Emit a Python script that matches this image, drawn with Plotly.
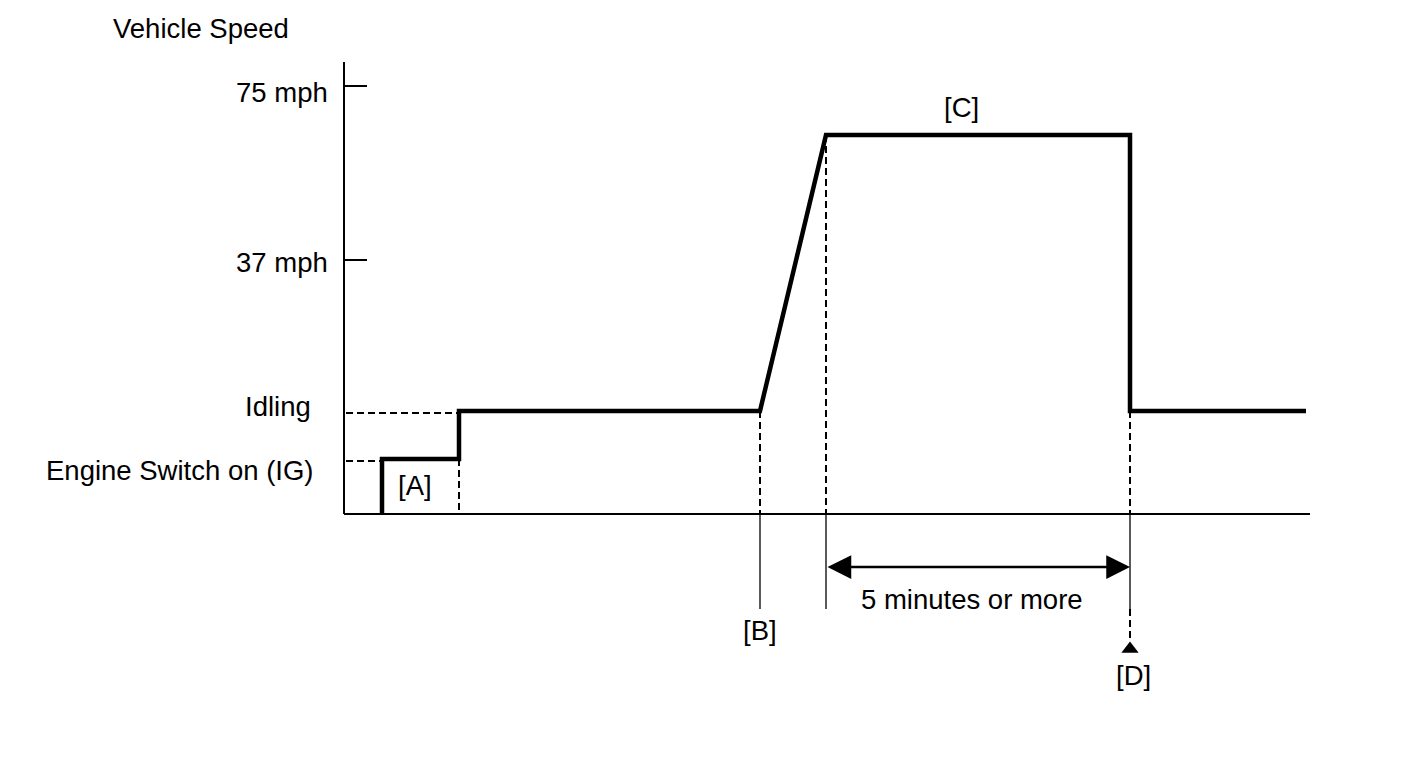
import plotly.graph_objects as go

# Schematic units: x = time position, y = speed level (baseline = 0)
t_start = 38
t_A = 115
t_B = 416
t_C = 482
t_D = 786
t_end = 962
axis_end = 966
axis_top = 452

lvl_engine = 55
lvl_idle = 103
lvl_cruise = 379
lvl_37 = 254
lvl_75 = 428

tick_levels = [lvl_75, lvl_37]
tick_labels = ["75 mph", "37 mph"]

# speed profile
prof_x = [t_start, t_start, t_A, t_A, t_B, t_C, t_D, t_D, t_end]
prof_y = [0, lvl_engine, lvl_engine, lvl_idle, lvl_idle, lvl_cruise, lvl_cruise, lvl_idle, lvl_idle]

below_end = -95
arrow_y = -53
d_dash_end = -127
d_tri = -135

FONT = "Liberation Sans, Arial, sans-serif"
FS = 27.5
BLACK = "#000000"
DASH = "7px,4px"

fig = go.Figure()

def line(xs, ys, w=2, dash="solid"):
    fig.add_trace(go.Scatter(x=xs, y=ys, mode="lines",
                             line=dict(color=BLACK, width=w, dash=dash),
                             hoverinfo="skip", showlegend=False))

# axes
line([0, 0], [0, axis_top], 2)
line([0, axis_end], [0, 0], 2)
# tick marks
for lv in tick_levels:
    line([0, 23], [lv, lv], 2)

# horizontal dashed reference lines
line([2, t_A], [lvl_idle - 2, lvl_idle - 2], 2, DASH)
line([2, t_start], [lvl_engine - 2, lvl_engine - 2], 2, DASH)

# vertical dashed lines
line([t_A, t_A], [lvl_engine, 0], 2, DASH)
line([t_B, t_B], [lvl_idle, 0], 2, DASH)
line([t_C, t_C], [lvl_cruise, 0], 2, DASH)
line([t_D, t_D], [lvl_idle, 0], 2, DASH)

# thin solid below baseline
line([t_B, t_B], [0, below_end], 1.3)
line([t_C, t_C], [0, below_end], 1.3)
line([t_D, t_D], [0, below_end], 1.3)
line([t_D, t_D], [below_end, d_dash_end], 2, DASH)

# profile
fig.add_trace(go.Scatter(x=prof_x, y=prof_y, mode="lines",
                         line=dict(color=BLACK, width=4.5),
                         hoverinfo="skip", showlegend=False))

# triangle marker at D
fig.add_trace(go.Scatter(x=[t_D], y=[d_tri], mode="markers",
                         marker=dict(symbol="triangle-up", size=15, color=BLACK),
                         hoverinfo="skip", showlegend=False))

annotations = []
# double arrow
annotations.append(dict(x=t_D, y=arrow_y, ax=t_C, ay=arrow_y, xref="x", yref="y",
                        axref="x", ayref="y", text="", showarrow=True,
                        arrowhead=2, arrowside="end+start", arrowsize=1.9,
                        arrowwidth=2.5, arrowcolor=BLACK))

def label(x, y, text, xanchor="center"):
    annotations.append(dict(x=x, y=y, xref="x", yref="y", text=text, showarrow=False,
                            xanchor=xanchor, yanchor="middle",
                            font=dict(family=FONT, size=FS, color=BLACK)))

for lv, tl, off in zip(tick_levels, tick_labels, [-6, -2]):
    label(-14, lv + off, tl, "right")
label(-31, lvl_idle + 5, "Idling", "right")
label(-29, lvl_engine - 11, "Engine Switch on (IG)", "right")
label(-143, 486, "Vehicle Speed")
label(71, 29, "[A]")
label(617, 407, "[C]")
label(t_B, -116, "[B]")
label(628, -85, "5 minutes or more")
label(t_D + 3, -161, "[D]")

# page has an 8px body margin; plot area maps data x = pixel - 344, y = 514 - pixel
fig.update_layout(
    width=1408, height=743,
    margin=dict(l=0, r=0, t=0, b=0),
    paper_bgcolor="white", plot_bgcolor="white",
    xaxis=dict(range=[-336, 1072], visible=False, fixedrange=True),
    yaxis=dict(range=[-237, 506], visible=False, fixedrange=True),
    annotations=annotations,
    showlegend=False,
)

fig.write_html("out.html")
